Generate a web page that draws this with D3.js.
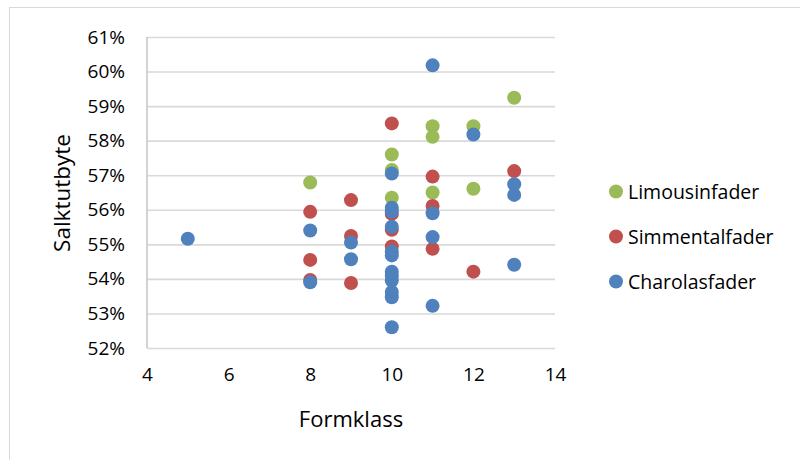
<!DOCTYPE html>
<html>
<head>
<meta charset="utf-8">
<script src="https://cdn.jsdelivr.net/npm/d3@7"></script>
<style>
  html, body { margin: 0; padding: 0; background: #fff; }
  svg text { font-family: "Open Sans", "Liberation Sans", sans-serif; fill: #000; }
</style>
</head>
<body>
<svg id="chart" width="800" height="460"></svg>
<script>
// ---- Data (Formklass x, Salktutbyte %) ----
const seriesNames = ["Limousinfader", "Simmentalfader", "Charolasfader"];
const seriesColors = ["#9BBB59", "#C0504D", "#4F81BD"];

const limousinX = [8, 10, 10, 10, 11, 11, 11, 12, 12, 13];
const limousinY = [56.79, 57.60, 57.15, 56.35, 58.42, 58.11, 56.50, 58.42, 56.61, 59.24];

const simmentalX = [8, 8, 8, 9, 9, 9, 10, 10, 10, 10, 11, 11, 11, 12, 13];
const simmentalY = [55.94, 54.55, 53.97, 56.28, 55.24, 53.88, 58.50, 55.88, 55.42, 54.94, 56.96, 56.11, 54.87, 54.21, 57.12];

const charolaisX = [5, 8, 8, 9, 9, 10, 10, 10, 10, 10, 10, 10, 10, 10, 10, 10, 10, 11, 11, 11, 11, 12, 13, 13, 13];
const charolaisY = [55.16, 55.40, 53.90, 55.05, 54.57, 57.05, 56.06, 55.95, 55.51, 54.79, 54.68, 54.21, 54.08, 53.95, 53.62, 53.47, 52.60, 60.18, 55.90, 55.21, 53.22, 58.18, 56.74, 56.43, 54.41];

const xTicks = [4, 6, 8, 10, 12, 14];
const yTicks = [52, 53, 54, 55, 56, 57, 58, 59, 60, 61];
const xTitle = "Formklass";
const yTitle = "Salktutbyte";

const series = [
  { name: seriesNames[0], color: seriesColors[0], xs: limousinX, ys: limousinY },
  { name: seriesNames[1], color: seriesColors[1], xs: simmentalX, ys: simmentalY },
  { name: seriesNames[2], color: seriesColors[2], xs: charolaisX, ys: charolaisY }
];

// ---- Layout ----
const svg = d3.select("#chart");
const plot = { left: 147, right: 555, top: 37, bottom: 348 };

const x = d3.scaleLinear().domain([4, 14]).range([plot.left, plot.right]);
const y = d3.scaleLinear().domain([52, 61]).range([plot.bottom, plot.top]);

// chart border
svg.append("rect")
  .attr("x", 9.5).attr("y", 7.5)
  .attr("width", 820).attr("height", 480)
  .attr("fill", "none").attr("stroke", "#D9D9D9").attr("stroke-width", 1);

// gridlines via axis
const yGrid = d3.axisLeft(y).tickValues(yTicks).tickSize(-(plot.right - plot.left)).tickFormat("");
svg.append("g")
  .attr("transform", `translate(${plot.left},0)`)
  .call(yGrid)
  .call(g => g.select(".domain").remove())
  .call(g => g.selectAll("line").attr("stroke", "#D9D9D9").attr("stroke-width", 1.6));

// y axis line
svg.append("line")
  .attr("x1", plot.left).attr("x2", plot.left)
  .attr("y1", plot.top).attr("y2", plot.bottom)
  .attr("stroke", "#C8C8C8").attr("stroke-width", 1.6);

// y tick labels
const yAxis = d3.axisLeft(y).tickValues(yTicks).tickSize(0).tickPadding(22).tickFormat(d => d + "%");
svg.append("g")
  .attr("transform", `translate(${plot.left},0)`)
  .call(yAxis)
  .call(g => g.select(".domain").remove())
  .call(g => g.selectAll("text").attr("font-size", 19).attr("font-family", "'Open Sans', sans-serif"));

// x tick labels
const xAxis = d3.axisBottom(x).tickValues(xTicks).tickSize(0).tickPadding(20).tickFormat(d3.format("d"));
svg.append("g")
  .attr("transform", `translate(0,${plot.bottom})`)
  .call(xAxis)
  .call(g => g.select(".domain").remove())
  .call(g => g.selectAll("text").attr("font-size", 19).attr("font-family", "'Open Sans', sans-serif"));

// axis titles
svg.append("text")
  .attr("x", 351).attr("y", 418)
  .attr("text-anchor", "middle").attr("dominant-baseline", "central")
  .attr("font-size", 22)
  .text(xTitle);

svg.append("text")
  .attr("transform", `translate(61,193) rotate(-90)`)
  .attr("text-anchor", "middle").attr("dominant-baseline", "central")
  .attr("font-size", 22.5)
  .text(yTitle);

// points
series.forEach(s => {
  svg.append("g")
    .selectAll("circle")
    .data(s.xs.map((v, i) => [v, s.ys[i]]))
    .join("circle")
    .attr("cx", d => x(d[0]))
    .attr("cy", d => y(d[1]))
    .attr("r", 7)
    .attr("fill", s.color);
});

// legend
const legendY = [191.5, 236.5, 281.5];
const legend = svg.append("g");
series.forEach((s, i) => {
  legend.append("circle")
    .attr("cx", 616).attr("cy", legendY[i]).attr("r", 7)
    .attr("fill", s.color);
  legend.append("text")
    .attr("x", 628).attr("y", legendY[i])
    .attr("dominant-baseline", "central")
    .attr("font-size", 19.5)
    .text(s.name);
});
</script>
</body>
</html>
